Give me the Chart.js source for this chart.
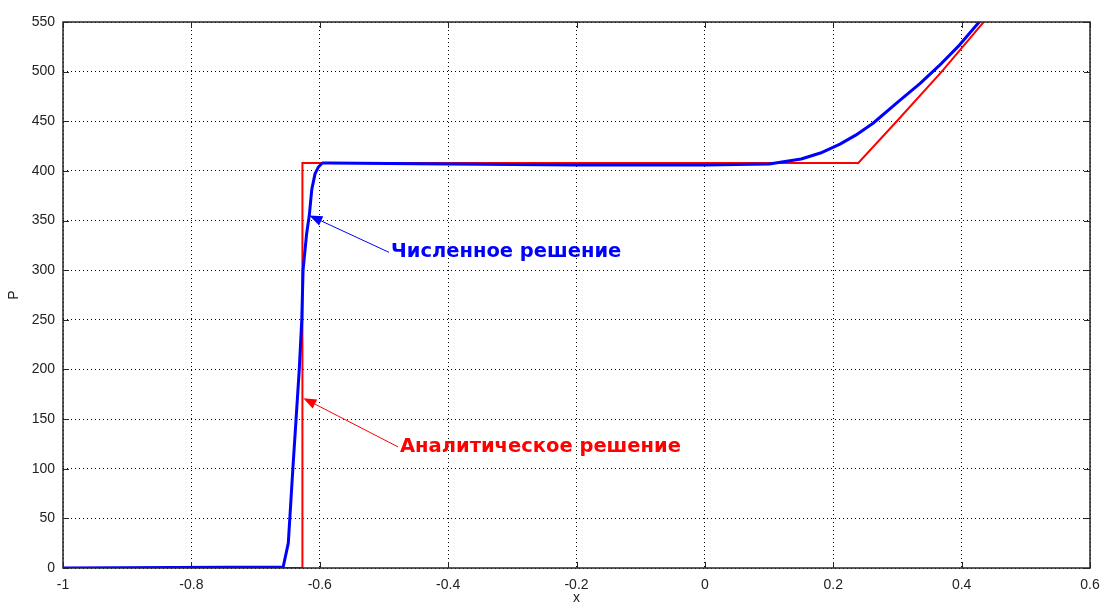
<!DOCTYPE html>
<html>
<head>
<meta charset="utf-8">
<script src="https://cdn.jsdelivr.net/npm/chart.js@4/dist/chart.umd.min.js"></script>
<style>
    html, body { margin: 0; padding: 0; background: #fff; }
    #wrap { width: 1102px; height: 607px; }
</style>
</head>
<body>
<div id="wrap"><canvas id="chart"></canvas></div>
<script>
// Numerical solution (blue)
const blueX = [-1, -0.657, -0.649, -0.642, -0.637, -0.632, -0.628, -0.626, -0.6204, -0.6163, -0.6125, -0.6074, -0.602, -0.596, -0.585, -0.4, -0.2, 0, 0.1, 0.15, 0.18, 0.2105, 0.235, 0.262, 0.3, 0.335, 0.365, 0.397, 0.43];
const blueP = [0, 1, 25, 99, 149, 199, 250, 300, 337, 355, 381, 397, 404, 408, 408, 407, 406, 406, 407, 412, 418, 427, 436, 448, 469, 488, 506, 527, 552];

// Analytical solution (red)
const redX = [-1, -0.627, -0.627, 0.239, 0.299, 0.369, 0.437];
const redP = [0, 0, 408, 408, 450, 500, 552];

// Axis ticks
const xTicks = [-1, -0.8, -0.6, -0.4, -0.2, 0, 0.2, 0.4, 0.6];
const yTicks = [0, 50, 100, 150, 200, 250, 300, 350, 400, 450, 500, 550];

// Callout labels: text, arrow tip and text anchor in data coordinates
const noteText = ['Численное решение', 'Аналитическое решение'];
const noteTipX = [-0.6163, -0.6256];
const noteTipP = [355, 171];
const noteTextX = [-0.489, -0.475];
const noteTextP = [318, 122];
const noteColors = ['#0000ff', '#ff0000'];

const toPoints = (xs, ys) => xs.map((x, i) => ({ x: x, y: ys[i] }));

// MATLAB-like box with inward ticks on all four sides
const matlabFrame = {
    id: 'matlabFrame',
    afterDatasetsDraw(chart) {
        const { ctx, chartArea: a, scales } = chart;
        ctx.save();
        ctx.strokeStyle = '#262626';
        ctx.lineWidth = 1;
        ctx.beginPath();
        xTicks.forEach(t => {
            const px = Math.round(scales.x.getPixelForValue(t)) + 0.5;
            ctx.moveTo(px, a.bottom); ctx.lineTo(px, a.bottom - 6);
            ctx.moveTo(px, a.top); ctx.lineTo(px, a.top + 6);
        });
        yTicks.forEach(t => {
            const py = Math.round(scales.y.getPixelForValue(t)) + 0.5;
            ctx.moveTo(a.left, py); ctx.lineTo(a.left + 6, py);
            ctx.moveTo(a.right, py); ctx.lineTo(a.right - 6, py);
        });
        ctx.stroke();
        ctx.lineWidth = 1.5;
        ctx.strokeRect(a.left, a.top, a.right - a.left, a.bottom - a.top);
        ctx.restore();
    }
};

// Arrows with labels
const arrowNotes = {
    id: 'arrowNotes',
    afterDatasetsDraw(chart) {
        const { ctx, scales } = chart;
        ctx.save();
        noteText.forEach((txt, i) => {
            const tx = scales.x.getPixelForValue(noteTextX[i]);
            const ty = scales.y.getPixelForValue(noteTextP[i]);
            const hx = scales.x.getPixelForValue(noteTipX[i]);
            const hy = scales.y.getPixelForValue(noteTipP[i]);
            const ang = Math.atan2(hy - ty, hx - tx);
            const len = 13, half = 5;
            const bx = hx - len * Math.cos(ang), by = hy - len * Math.sin(ang);

            ctx.strokeStyle = noteColors[i];
            ctx.fillStyle = noteColors[i];
            ctx.lineWidth = 1;
            ctx.beginPath();
            ctx.moveTo(tx - 2, ty);
            ctx.lineTo(bx, by);
            ctx.stroke();

            ctx.beginPath();
            ctx.moveTo(hx, hy);
            ctx.lineTo(bx + half * Math.sin(ang), by - half * Math.cos(ang));
            ctx.lineTo(bx - half * Math.sin(ang), by + half * Math.cos(ang));
            ctx.closePath();
            ctx.fill();

            ctx.font = 'bold 19.5px "DejaVu Sans"';
            ctx.textAlign = 'left';
            ctx.textBaseline = 'middle';
            ctx.fillText(txt, tx, ty);
        });
        ctx.restore();
    }
};

const gridOpts = { color: '#000', lineWidth: 1, drawTicks: false };
const tickFont = { family: '"Liberation Sans", Arial, sans-serif', size: 14 };
const titleFont = { family: '"Liberation Sans", Arial, sans-serif', size: 14 };

new Chart(document.getElementById('chart'), {
    type: 'line',
    data: {
        datasets: [
            {
                label: 'Численное решение',
                data: toPoints(blueX, blueP),
                borderColor: '#0000ff',
                borderWidth: 3,
                pointRadius: 0,
                tension: 0,
                borderJoinStyle: 'round'
            },
            {
                label: 'Аналитическое решение',
                data: toPoints(redX, redP),
                borderColor: '#ff0000',
                borderWidth: 2,
                pointRadius: 0,
                tension: 0
            }
        ]
    },
    options: {
        responsive: true,
        maintainAspectRatio: false,
        animation: false,
        layout: { padding: { left: 0, top: 22, right: 12, bottom: 0 } },
        plugins: {
            legend: { display: false },
            tooltip: { enabled: false }
        },
        scales: {
            x: {
                type: 'linear',
                min: -1,
                max: 0.6,
                afterBuildTicks: s => { s.ticks = xTicks.map(v => ({ value: v })); },
                afterFit: s => { s.height = 39; s.paddingLeft = 0; s.paddingRight = 0; },
                ticks: {
                    color: '#222',
                    font: tickFont,
                    padding: 9,
                    maxRotation: 0,
                    callback: v => String(Math.round(v * 10) / 10)
                },
                grid: gridOpts,
                border: { display: false, dash: [1, 3] },
                title: {
                    display: true,
                    text: 'x',
                    color: '#222',
                    font: titleFont,
                    padding: { top: 0, bottom: 0 }
                }
            },
            y: {
                min: 0,
                max: 550,
                afterBuildTicks: s => { s.ticks = yTicks.map(v => ({ value: v })); },
                afterFit: s => { s.width = 63; },
                ticks: {
                    color: '#222',
                    font: tickFont,
                    padding: 8
                },
                grid: gridOpts,
                border: { display: false, dash: [1, 3] },
                title: {
                    display: true,
                    text: 'P',
                    color: '#222',
                    font: titleFont,
                    padding: { top: 6, bottom: 0 }
                }
            }
        }
    },
    plugins: [matlabFrame, arrowNotes]
});
</script>
</body>
</html>
